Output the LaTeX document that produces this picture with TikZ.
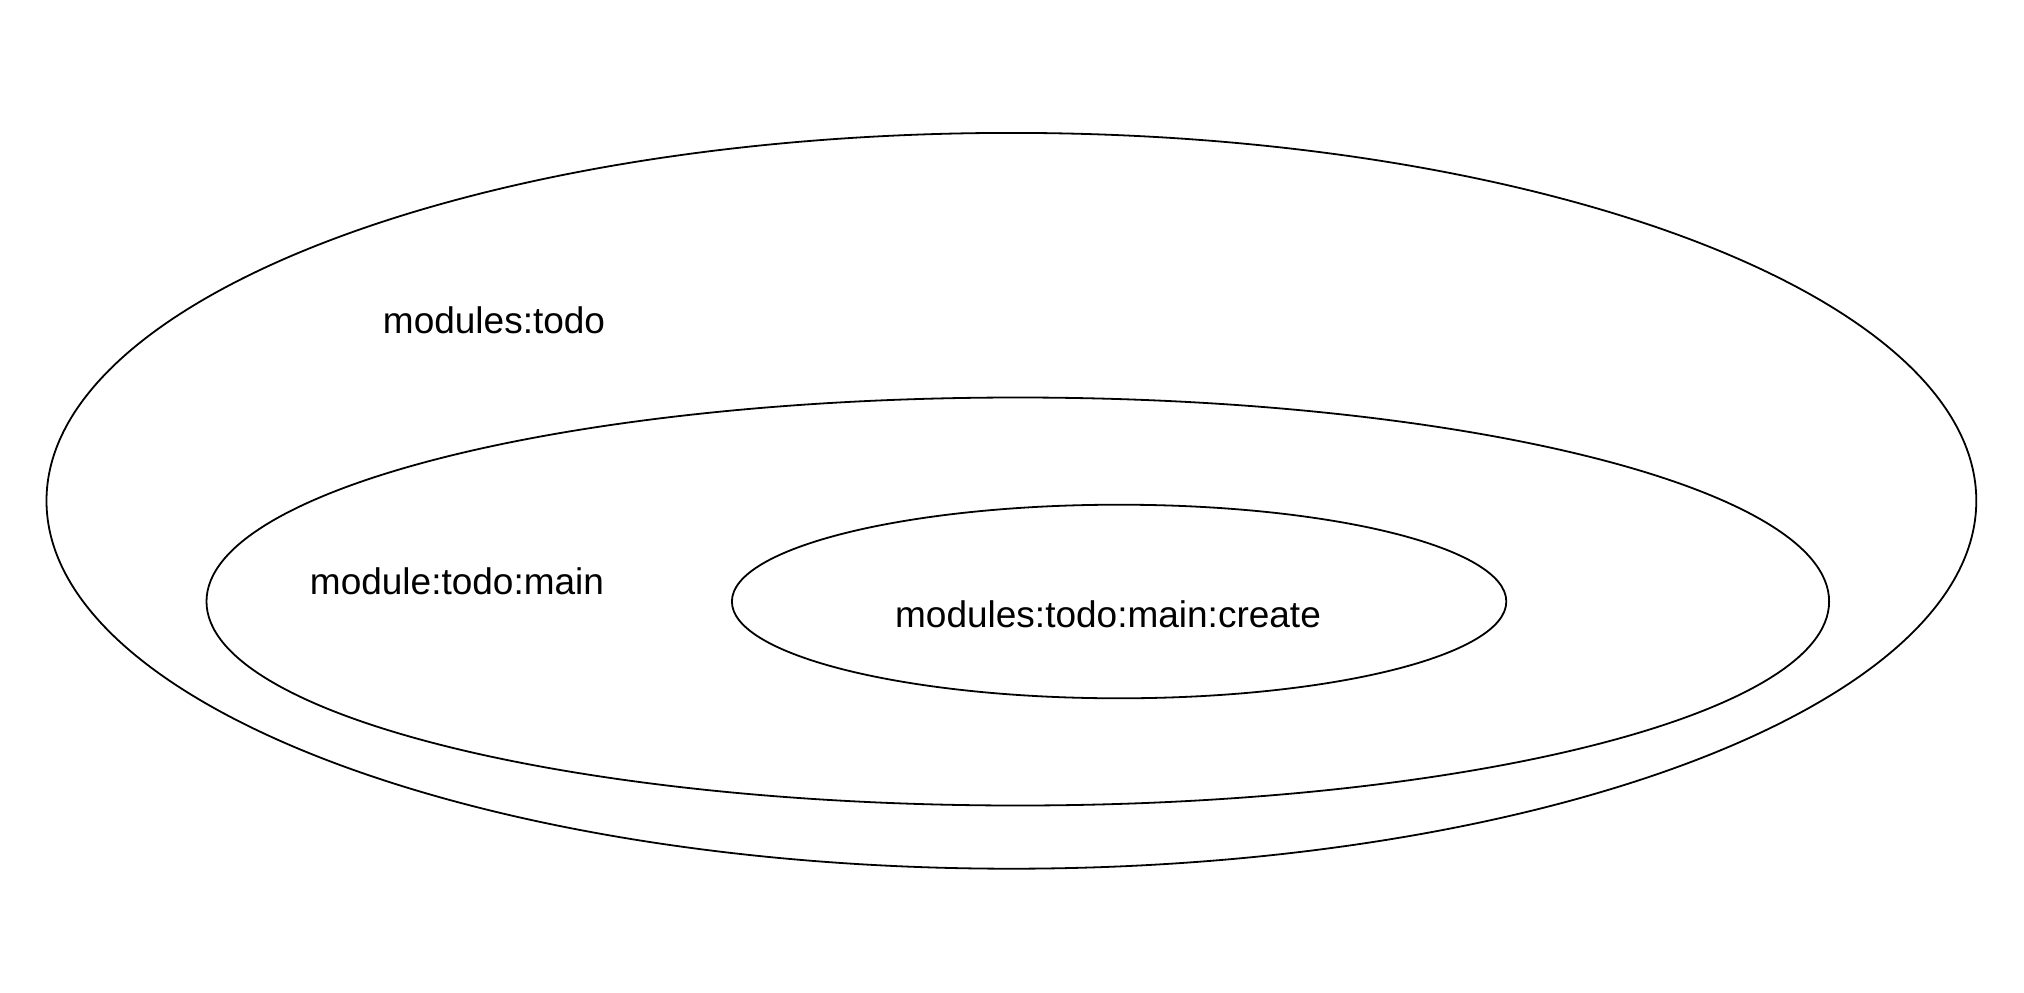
\documentclass[tikz,border=0pt]{standalone}
\usepackage{fontspec}
\setmainfont{Liberation Sans}
\usetikzlibrary{shapes.geometric}
\begin{document}
\begin{tikzpicture}[x=1pt,y=-1pt,
  ring/.style={draw=black, line width=1.8pt},
  lbl/.style={font=\fontsize{37}{42}\selectfont, inner sep=0pt, anchor=center}]
\useasboundingbox (0,0) rectangle (2024,993);
\draw[ring] (1011.4,500.8) ellipse [x radius=964.9, y radius=367.9];
\draw[ring] (1017.8,601.5) ellipse [x radius=811.3, y radius=204];
\draw[ring] (1119.1,601.5) ellipse [x radius=387.2, y radius=96.8];
\node[lbl] (outer) at (494,320) {modules:todo};
\node[lbl] (middle) at (457,581) {module:todo:main};
\node[lbl] (inner) at (1108,614) {modules:todo:main:create};
\end{tikzpicture}
\end{document}
